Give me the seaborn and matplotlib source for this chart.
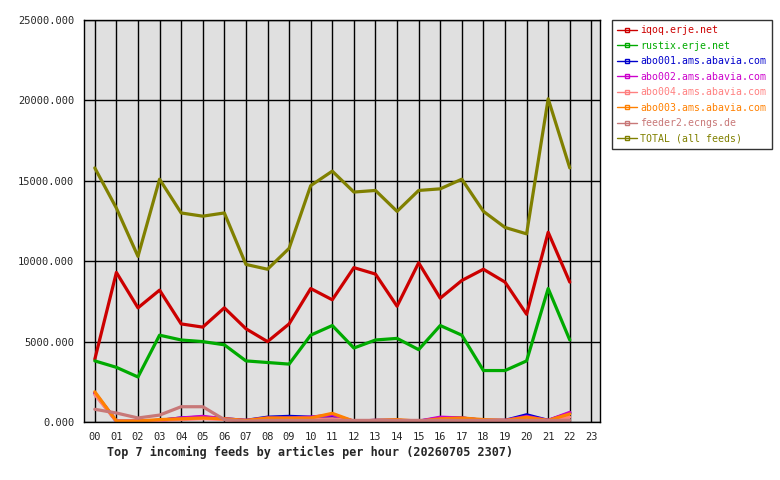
import pandas as pd
import seaborn as sns
import matplotlib.pyplot as plt
from matplotlib.ticker import FuncFormatter

# hours on the x axis
hours = ['00', '01', '02', '03', '04', '05', '06', '07', '08', '09', '10', '11',
         '12', '13', '14', '15', '16', '17', '18', '19', '20', '21', '22']
hour_labels = ['%02d' % h for h in range(24)]

# articles per hour
iqoq = [3900, 9300, 7100, 8200, 6100, 5900, 7100, 5800, 5000, 6100, 8300, 7600,
        9600, 9200, 7200, 9900, 7700, 8800, 9500, 8700, 6700, 11800, 8700]
rustix = [3800, 3400, 2800, 5400, 5100, 5000, 4800, 3800, 3700, 3600, 5400, 6000,
          4600, 5100, 5200, 4500, 6000, 5400, 3200, 3200, 3800, 8300, 5100]
abo001 = [1800, 50, 50, 100, 250, 300, 200, 100, 300, 350, 300, 350,
          50, 100, 100, 50, 250, 250, 100, 100, 450, 100, 550]
abo002 = [1800, 50, 50, 100, 250, 350, 200, 100, 250, 250, 300, 450,
          50, 100, 100, 50, 300, 250, 100, 100, 350, 100, 600]
abo004 = [1700, 50, 50, 100, 150, 200, 150, 50, 150, 150, 150, 200,
          50, 50, 100, 50, 150, 150, 50, 50, 200, 50, 300]
abo003 = [1880, 60, 60, 150, 200, 250, 200, 100, 250, 250, 250, 540,
          50, 100, 150, 50, 200, 250, 150, 100, 300, 100, 500]
feeder2 = [790, 560, 250, 430, 950, 950, 150, 50, 100, 100, 100, 100,
           100, 100, 100, 100, 100, 100, 100, 100, 100, 100, 100]
total = [15800, 13300, 10300, 15100, 13000, 12800, 13000, 9800, 9500, 10800, 14700, 15600,
         14300, 14400, 13100, 14400, 14500, 15100, 13100, 12100, 11700, 20100, 15800]

feeds = ['iqoq.erje.net', 'rustix.erje.net', 'abo001.ams.abavia.com', 'abo002.ams.abavia.com',
         'abo004.ams.abavia.com', 'abo003.ams.abavia.com', 'feeder2.ecngs.de', 'TOTAL (all feeds)']
series = [iqoq, rustix, abo001, abo002, abo004, abo003, feeder2, total]
colors = ['#cc0000', '#00aa00', '#0000cc', '#cc00cc', '#ff8080', '#ff8000', '#c87878', '#808000']

# long table for seaborn
rows = []
for feed, vals in zip(feeds, series):
    for h, v in zip(hours, vals):
        rows.append({'hour': int(h), 'articles': v, 'feed': feed})
df = pd.DataFrame(rows)

sns.set_style('white')
plt.rcParams['font.family'] = ['DejaVu Sans Mono']

fig = plt.figure(figsize=(7.8, 4.8), dpi=100)
ax = fig.add_axes([84 / 780, 58 / 480, 516 / 780, 402 / 480])
ax.set_facecolor('#e0e0e0')

sns.lineplot(data=df, x='hour', y='articles', hue='feed', hue_order=feeds,
             palette=dict(zip(feeds, colors)), linewidth=2.3, ax=ax, legend=False)

ax.set_xlim(-0.5, 23.4)
ax.set_ylim(0, 25000)
ax.set_xticks(range(24))
ax.set_xticklabels(hour_labels)
ax.set_yticks(range(0, 25001, 5000))
ax.yaxis.set_major_formatter(FuncFormatter(lambda v, p: '%.3f' % v))
ax.grid(True, color='black', linewidth=1)
ax.set_axisbelow(True)
for s in ax.spines.values():
    s.set_color('black')
    s.set_linewidth(1)
ax.tick_params(axis='both', length=4, color='black', labelsize=7.5, direction='out', pad=3)
ax.set_xlabel('')
ax.set_ylabel('')

# legend with little line + square marker
handles = [plt.Line2D([], [], color=c, linewidth=1, marker='s', markersize=2.5,
                      markerfacecolor='none', markeredgecolor=c) for c in colors]
leg = fig.legend(handles, feeds, loc='upper left', bbox_to_anchor=(612 / 780, 1 - 20 / 480),
                 frameon=True, fancybox=False, edgecolor='black', fontsize=7.1,
                 handlelength=2.0, handletextpad=0.3, labelspacing=0.55, borderpad=0.55,
                 borderaxespad=0)
leg.get_frame().set_linewidth(1)
for t, c in zip(leg.get_texts(), colors):
    t.set_color(c)

fig.text(310 / 780, 1 - 452 / 480, 'Top 7 incoming feeds by articles per hour (20260705 2307)',
         ha='center', va='center', fontsize=8.5, fontweight='bold')

fig.savefig('out.png', dpi=100)
